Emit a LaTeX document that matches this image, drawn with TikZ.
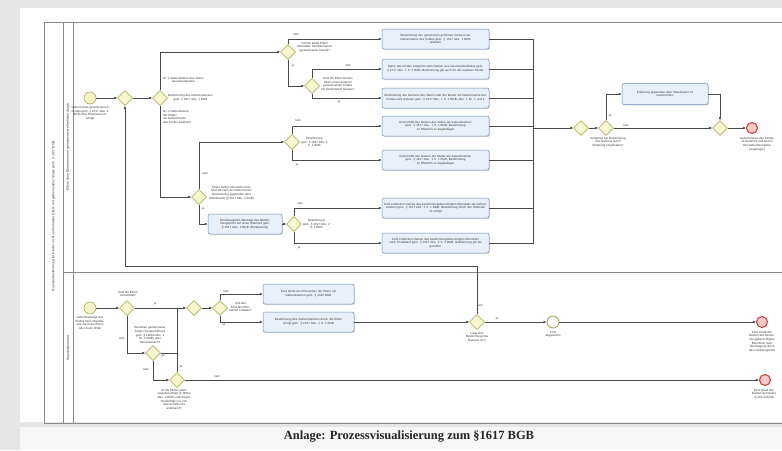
\documentclass[tikz,border=0pt]{standalone}
\usepackage{fontspec}
\setmainfont{Liberation Serif}
\newfontfamily\lsans{Liberation Sans}
\usetikzlibrary{shapes.geometric,arrows.meta,shadows,positioning}
\definecolor{bggray}{HTML}{E6E6E6}
\definecolor{gwfill}{HTML}{F7F7CF}
\definecolor{gwdraw}{HTML}{B5B56A}
\definecolor{evfill}{HTML}{F4F4C4}
\definecolor{evdraw}{HTML}{A8A860}
\definecolor{endfill}{HTML}{F6CACA}
\definecolor{enddraw}{HTML}{C04848}
\definecolor{taskfill}{HTML}{E9F0FA}
\definecolor{taskdraw}{HTML}{6F8DB5}
\definecolor{flowc}{HTML}{4A4A4A}
\definecolor{txtc}{HTML}{3A3A3A}
\definecolor{poolc}{HTML}{8A8A8A}
\newcommand{\tf}{\lsans\fontsize{3}{3.6}\selectfont}
\newcommand{\pf}{\lsans\fontsize{3.4}{4}\selectfont}
\begin{document}
\begin{tikzpicture}[x=1pt,y=-1pt,
  gw/.style={diamond,draw=gwdraw,fill=gwfill,line width=0.6pt,minimum width=15pt,minimum height=15pt,inner sep=0pt,drop shadow={opacity=0.15,shadow xshift=0.6pt,shadow yshift=-0.6pt}},
  ev/.style={circle,draw=evdraw,fill=evfill,line width=0.6pt,minimum size=12pt,inner sep=0pt},
  iev/.style={circle,draw=evdraw,fill=white,line width=0.9pt,minimum size=12pt,inner sep=0pt},
  endev/.style={circle,draw=enddraw,fill=endfill,line width=1.1pt,minimum size=11pt,inner sep=0pt},
  task/.style={rectangle,rounded corners=2pt,draw=taskdraw,fill=taskfill,line width=0.5pt,minimum height=20pt,inner sep=1pt,align=center,font=\tf,text=txtc,drop shadow={opacity=0.25,shadow xshift=1pt,shadow yshift=-1pt}},
  lbl/.style={font=\tf,text=txtc,align=center,inner sep=0pt},
  fl/.style={font=\tf,text=txtc,inner sep=0pt},
  flow/.style={draw=flowc,line width=0.45pt,-{Latex[length=3pt,width=2.6pt]}},
  line/.style={draw=flowc,line width=0.45pt},
  poolline/.style={draw=poolc,line width=0.6pt}]
\useasboundingbox (0,0) rectangle (782,450);
\fill[bggray] (0,0) rectangle (782,450);
\fill[white] (20,8) rectangle (782,422);
\fill[white!97!black] (20,427) rectangle (782,450);
\node[font=\bfseries\fontsize{12.5}{14}\selectfont,text=black!85] (cap) at (409,437) {Anlage: Prozessvisualisierung zum §1617 BGB};

% pool and lanes
\draw[poolline] (782,22) -- (44,22) -- (44,423) -- (782,423);
\draw[poolline] (63,22) -- (63,423);
\draw[poolline] (73,22) -- (73,423);
\draw[poolline] (63,272) -- (782,272);
\node[rotate=90,font=\pf,text=txtc] (poollbl) at (53.5,216) {Namensbestimmung für Kinder nicht verheirateter Eltern mit gemeinsamer Sorge gem. § 1617 BGB};
\node[rotate=90,font=\pf,text=txtc] (lane1) at (68,147) {Eltern ohne Ehenamen mit gemeinsamer elterlicher Sorge};
\node[rotate=90,font=\pf,text=txtc] (lane2) at (68,348) {Standesbeamter};

% ===== upper lane =====
\node[ev] (su) at (90,98) {};
\node[lbl,below=2pt of su] (sul) {Geburt eines gemeinsamen\\Kindes gem. § 1617 Abs. 1\\BGB ohne Ehenamen ist\\erfolgt};
\node[gw] (g1) at (125,98) {};
\node[gw] (g2) at (160,98) {};
\node[lbl,anchor=west] (g2a) at (163,80) {Nr. 1 Geburtsname des Vaters\\als Geburtsname};
\node[lbl,anchor=west] (g2b) at (168,98) {Bestimmung des Geburtsnamens\\gem. § 1617 Abs. 1 BGB};
\node[lbl,anchor=west,align=left] (g2c) at (163,117) {Nr. 2 Geburtsname\\der Mutter\\als Geburtsname\\des Kindes bestimmt};

\node[gw] (ga) at (288,52) {};
\node[lbl,anchor=west] (gal) at (297,47) {Führen beide Eltern\\denselben Familiennamen\\(gemeinsamer Name)?};
\node[gw] (gb) at (312,86) {};
\node[lbl,anchor=west] (gbl) at (321,84) {Sind die Eltern bereits\\Eltern eines anderen\\gemeinsamen Kindes\\mit bestimmtem Namen?};
\node[gw] (gc) at (199,197) {};
\node[lbl,anchor=west] (gcl) at (209,193) {Eltern treffen innerhalb eines\\Monats nach der Geburt keine\\Bestimmung gegenüber dem\\Standesamt (§ 1617 Abs. 2 BGB)};
\node[gw] (gd) at (292,142) {};
\node[lbl,anchor=west] (gdl) at (301,142) {Bestimmung\\gem. § 1617 Abs. 1\\S. 1 BGB};
\node[gw] (ge) at (294,224) {};
\node[lbl,anchor=west] (gel) at (303,224) {Bestimmung\\gem. § 1617 Abs. 2\\S. 1 BGB};

\node[task,minimum width=74pt,text width=70pt] (tc) at (245,224) {Familiengericht überträgt das Bestimmungsrecht auf einen Elternteil gem. § 1617 Abs. 2 BGB (Fristsetzung)};

\node[task,minimum width=107pt,text width=103pt] (t1) at (435.5,39) {Bestimmung des gemeinsam geführten Namens als Geburtsname des Kindes gem. § 1617 Abs. 1 BGB\\wirksam};
\node[task,minimum width=107pt,text width=103pt] (t2) at (435.5,69) {Name des Kindes entspricht dem Namen des Geschwisterkindes gem. § 1617 Abs. 1 S. 3 BGB, Bestimmung gilt auch für alle weiteren Kinder};
\node[task,minimum width=107pt,text width=103pt] (t3) at (435.5,98) {Bestimmung des Namens des Vaters oder der Mutter als Geburtsname des Kindes wird wirksam gem. § 1617 Abs. 1 S. 1 BGB, Abs. 1 Nr. 1 und 2};
\node[task,minimum width=107pt,text width=103pt] (t4) at (435.5,126) {Kind erhält den Namen des Vaters als Geburtsnamen\\gem. § 1617 Abs. 1 S. 1 BGB, Bestimmung\\ist öffentlich zu beglaubigen};
\node[task,minimum width=107pt,text width=103pt] (t5) at (435.5,160) {Kind erhält den Namen der Mutter als Geburtsnamen\\gem. § 1617 Abs. 1 S. 1 BGB, Bestimmung\\ist öffentlich zu beglaubigen};
\node[task,minimum width=107pt,text width=103pt] (t6) at (435.5,208) {Kind erhält den Namen des bestimmungsberechtigten Elternteils als Geburtsnamen gem. § 1617 Abs. 2 S. 1 BGB, Bestimmung durch den Elternteil\\ist erfolgt};
\node[task,minimum width=107pt,text width=103pt] (t7) at (435.5,243) {Kind erhält den Namen des bestimmungsberechtigten Elternteils nach Fristablauf gem. § 1617 Abs. 2 S. 4 BGB, Bestimmung gilt als\\getroffen};

\coordinate (m) at (533,128);
\node[gw] (gf) at (581,128) {};
\node[gw] (gg) at (606,128) {};
\node[lbl,anchor=north] (ggl) at (608,137) {Verfahren bei Bestimmung\\des Namens durch\\Erklärung eingehalten?};
\node[task,minimum width=86pt,text width=82pt,minimum height=21pt] (t8) at (665,94) {Erklärung gegenüber dem Standesamt ist\\nachzuholen};
\node[gw] (gh) at (720,128) {};
\node[endev] (eu) at (752,128) {};
\node[lbl,anchor=north] (eul) at (757,137) {Geburtsname des Kindes\\ist bestimmt und wird in\\das Geburtenregister\\eingetragen};

% upper flows
\draw[flow] (su) -- (g1);
\draw[flow] (g1) -- (g2);
\draw[flow] (g2.north) |- (ga.west);
\draw[flow] (g2.south) |- (gc.west);
\draw[flow] (ga.north) |- (t1.west);
\draw[flow] (ga.south) |- (gb.west);
\draw[flow] (gb.north) |- (t2.west);
\draw[flow] (gb.south) |- (t3.west);
\draw[flow] (gc.north) |- (gd.west);
\draw[flow] (gc.south) |- (tc.west);
\draw[flow] (tc.east) -- (ge.west);
\draw[flow] (gd.north) |- (t4.west);
\draw[flow] (gd.south) |- (t5.west);
\draw[flow] (ge.north) |- (t6.west);
\draw[flow] (ge.south) |- (t7.west);
\foreach \t in {t1,t2,t3,t4,t5,t6,t7} \draw[line] (\t.east) -| (m);
\draw[flow] (m) -- (gf.west);
\draw[flow] (gf) -- (gg);
\draw[flow] (gg.north) |- (t8.west);
\draw[flow] (gg.east) -- (gh.west);
\draw[flow] (t8.east) -| (gh.north);
\draw[flow] (gh) -- (eu);

\node[fl] (f1) at (296,34) {nein};
\node[fl] (f2) at (293,66) {ja};
\node[fl] (f3) at (348,65) {nein};
\node[fl] (f4) at (339,102) {ja};
\node[fl] (f5) at (205,173) {nein};
\node[fl] (f6) at (203,209) {ja};
\node[fl] (f7) at (298,120) {nein};
\node[fl] (f8) at (297,165) {ja};
\node[fl] (f9) at (300,203) {nein};
\node[fl] (f10) at (299,248) {ja};
\node[fl] (f11) at (610,116) {ja};
\node[fl] (f12) at (626,125) {nein};

% ===== lower lane =====
\node[ev] (sl) at (90,308) {};
\node[lbl,below=2pt of sl] (sll) {Geburtsanzeige des\\Kindes beim Standes-\\amt durch die Eltern\\oder durch Dritte};
\node[gw] (l1) at (127,308) {};
\node[lbl,anchor=south] (l1l) at (128,297) {Sind die Eltern\\verheiratet?};
\node[gw] (l3) at (153,353) {};
\node[lbl] (l3l) at (150,335) {Bestehen gemeinsame\\Sorge (Sorgeerklärung\\gem. § 1626a Abs. 1\\Nr. 1 BGB) oder\\Heirat danach?};
\node[gw] (l4) at (177,380) {};
\node[lbl,anchor=north] (l4l) at (174,389) {Ist die Mutter allein\\sorgeberechtigt (§ 1626a\\Abs. 3 BGB) oder liegen\\Sonderfälle vor, z.B.\\Vaterschaft nicht\\anerkannt?};
\coordinate (j1) at (177,308);
\node[gw] (l2) at (194,308) {};
\node[gw] (l5) at (220,308) {};
\node[lbl,anchor=west] (l5l) at (229,307) {Soll das\\Kind den Ehe-\\namen erhalten?};
\node[task,minimum width=91pt,text width=87pt] (t9) at (308.5,294) {Kind erhält den Ehenamen der Eltern als\\Geburtsnamen gem. § 1616 BGB};
\node[task,minimum width=91pt,text width=87pt] (t10) at (308.5,322) {Bestimmung des Geburtsnamens durch die Eltern\\erfolgt gem. § 1617 Abs. 1 S. 1 BGB};
\node[gw] (l6) at (477,322) {};
\node[lbl,anchor=north] (l6l) at (477,332) {Liegt eine\\Bestimmung des\\Namens vor?};
\node[iev] (ie) at (553,322) {};
\node[lbl,anchor=north] (iel) at (553,331) {Frist\\abgelaufen};
\node[endev] (el1) at (762,322) {};
\node[lbl,anchor=north] (el1l) at (762,331) {Kind erhält den\\Namen des bestim-\\mungsberechtigten\\Elternteils nach\\Übertragung durch\\das Familiengericht};
\node[endev] (el2) at (765,380) {};
\node[lbl,anchor=north] (el2l) at (764,389) {Kind erhält den\\Namen der Mutter\\(§ 1617a BGB)};
\coordinate (lp) at (125,266);

% lower flows
\draw[flow] (sl) -- (l1);
\draw[flow] (l1.east) -- (l2.west);
\draw[flow] (l1.south) |- (l3.west);
\draw[line] (l3.east) -| (j1);
\draw[line] (l4.north) -- (j1);
\draw[flow] (l3.south) |- (l4.west);
\draw[flow] (l4.east) -- (el2.west);
\draw[flow] (l2) -- (l5);
\draw[flow] (l5.north) |- (t9.west);
\draw[flow] (l5.south) |- (t10.west);
\draw[flow] (t10.east) -- (l6.west);
\draw[flow] (l6.north) |- (lp) -- (g1.south);
\draw[flow] (l6.east) -- (ie.west);
\draw[flow] (ie) -- (el1);

\node[fl] (k1) at (155,304) {ja};
\node[fl] (k2) at (122,338) {nein};
\node[fl] (k3) at (163,356) {ja};
\node[fl] (k4) at (146,369) {nein};
\node[fl] (k5) at (181,367) {ja};
\node[fl] (k6) at (217,376) {nein};
\node[fl] (k7) at (226,291) {nein};
\node[fl] (k8) at (224,325) {ja};
\node[fl] (k9) at (480,305) {nein};
\node[fl] (k10) at (497,319) {ja};
\end{tikzpicture}
\end{document}
